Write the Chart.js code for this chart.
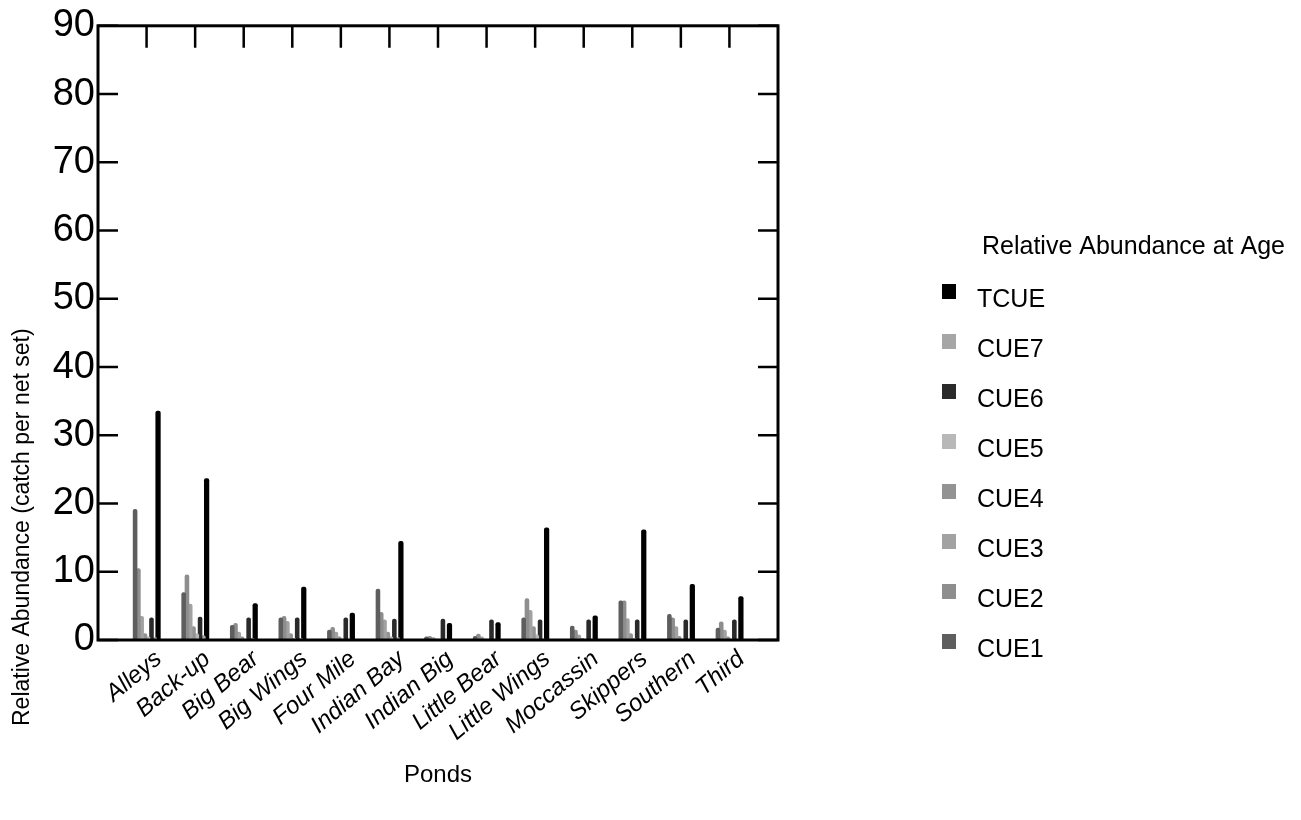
<!DOCTYPE html>
<html lang="en">
<head>
    <meta charset="UTF-8">
    <title>Relative Abundance at Age by Pond</title>
    <script src="https://cdn.jsdelivr.net/npm/chart.js"></script>
    <style>
        html, body { margin: 0; padding: 0; background: #fff; }
        #wrap { width: 1301px; height: 820px; }
    </style>
</head>
<body>
<div id="wrap"><canvas id="abundanceChart" width="1301" height="820"></canvas></div>
<script>
    // Ponds along the x axis
    const ponds = ['Alleys', 'Back-up', 'Big Bear', 'Big Wings', 'Four Mile', 'Indian Bay', 'Indian Big',
        'Little Bear', 'Little Wings', 'Moccassin', 'Skippers', 'Southern', 'Third'];
    const yTicks = [0, 10, 20, 30, 40, 50, 60, 70, 80, 90];

    // Catch per net set, by age class
    const cue1 = [19.2, 7.0, 2.2, 3.3, 1.5, 7.5, 0.5, 0.6, 3.3, 2.1, 5.8, 3.8, 1.8];
    const cue2 = [10.5, 9.6, 2.5, 3.5, 1.9, 4.1, 0.6, 0.9, 6.1, 1.5, 5.8, 3.3, 2.7];
    const cue3 = [3.5, 5.3, 1.2, 2.8, 1.2, 3.0, 0.4, 0.5, 4.4, 0.8, 3.2, 2.0, 1.5];
    const cue4 = [1.0, 2.0, 0.5, 1.0, 0.5, 1.2, 0.2, 0.2, 2.0, 0.3, 1.0, 0.6, 0.5];
    const cue5 = [0.5, 1.0, 0.2, 0.3, 0.2, 0.5, 0.1, 0.1, 0.8, 0.1, 0.3, 0.2, 0.2];
    const cue6 = [3.3, 3.4, 3.3, 3.3, 3.3, 3.1, 3.1, 3.0, 3.0, 3.0, 3.0, 3.0, 3.0];
    const cue7 = [0.4, 0.7, 0.3, 0.3, 0.2, 0.4, 0.1, 0.2, 0.2, 0.2, 0.2, 0.2, 0.2];
    const tcue = [33.6, 23.7, 5.4, 7.8, 4.0, 14.5, 2.5, 2.6, 16.5, 3.6, 16.2, 8.2, 6.4];

    const seriesNames = ['CUE1', 'CUE2', 'CUE3', 'CUE4', 'CUE5', 'CUE6', 'CUE7', 'TCUE'];
    const seriesValues = [cue1, cue2, cue3, cue4, cue5, cue6, cue7, tcue];
    const seriesColors = ['#5e5e5e', '#8e8e8e', '#a2a2a2', '#939393', '#b8b8b8', '#2a2a2a', '#a6a6a6', '#000000'];

    const FONT = '"Liberation Sans", Arial, Helvetica, sans-serif';
    Chart.defaults.font.family = FONT;
    Chart.defaults.color = '#000';

    const datasets = seriesNames.map((name, k) => ({
        label: name,
        data: seriesValues[k].map((v, i) => ({ x: i, y: v })),
        backgroundColor: seriesColors[k],
        borderWidth: 0,
        borderRadius: 2,
        barPercentage: name === 'TCUE' ? 1.6 : 1.4,
        categoryPercentage: 0.54
    }));

    // Box frame with inward tick marks
    const framePlugin = {
        id: 'frame',
        afterDatasetsDraw(chart) {
            const { ctx, chartArea: a, scales: { x, y } } = chart;
            ctx.save();
            ctx.strokeStyle = '#000';
            ctx.lineWidth = 3;
            ctx.strokeRect(a.left, a.top, a.right - a.left, a.bottom - a.top);
            ctx.lineWidth = 2.5;
            ctx.beginPath();
            yTicks.forEach(v => {
                const py = y.getPixelForValue(v);
                ctx.moveTo(a.left, py); ctx.lineTo(a.left + 20, py);
                ctx.moveTo(a.right, py); ctx.lineTo(a.right - 20, py);
            });
            ponds.forEach((p, i) => {
                const px = x.getPixelForValue(i);
                ctx.moveTo(px, a.top); ctx.lineTo(px, a.top + 22);
            });
            ctx.stroke();
            ctx.restore();
        }
    };

    // Y title and the legend column on the right
    const sideTextPlugin = {
        id: 'sideText',
        afterDraw(chart) {
            const ctx = chart.ctx;
            ctx.save();
            ctx.fillStyle = '#000';
            ctx.textBaseline = 'middle';

            ctx.save();
            ctx.translate(23, 726);
            ctx.rotate(-Math.PI / 2);
            ctx.font = '23px ' + FONT;
            ctx.textAlign = 'left';
            ctx.fillText('Relative Abundance (catch per net set)', 0, 0);
            ctx.restore();

            ctx.font = '25px ' + FONT;
            ctx.textAlign = 'left';
            ctx.fillText('Relative Abundance at Age', 982, 247);

            chart.data.datasets.slice().reverse().forEach((ds, i) => {
                const cy = 300 + i * 50;
                ctx.fillStyle = ds.backgroundColor;
                ctx.fillRect(942, cy - 16, 14, 15);
                ctx.fillStyle = '#000';
                ctx.fillText(ds.label, 977, cy);
            });
            ctx.restore();
        }
    };

    new Chart(document.getElementById('abundanceChart'), {
        type: 'bar',
        data: { datasets },
        options: {
            responsive: false,
            animation: false,
            layout: { padding: { left: 0, top: 22, right: 523, bottom: 0 } },
            plugins: {
                legend: { display: false },
                tooltip: { enabled: false }
            },
            scales: {
                x: {
                    type: 'linear',
                    min: -1,
                    max: 13,
                    offset: false,
                    grid: { display: false, drawTicks: false },
                    border: { display: false },
                    ticks: {
                        stepSize: 1,
                        autoSkip: false,
                        minRotation: 40,
                        maxRotation: 40,
                        padding: 5,
                        labelOffset: 12,
                        font: { size: 24, style: 'italic' },
                        callback: v => ponds[v] ?? ''
                    },
                    title: {
                        display: true,
                        text: 'Ponds',
                        font: { size: 24 },
                        padding: { top: 0, bottom: 30 }
                    },
                    afterFit(scale) { scale.height = 180; }
                },
                y: {
                    min: 0,
                    max: 90,
                    grid: { display: false, drawTicks: false },
                    border: { display: false },
                    ticks: { stepSize: 10, padding: 3, font: { size: 38 } },
                    afterFit(scale) { scale.width = 98; }
                }
            }
        },
        plugins: [framePlugin, sideTextPlugin]
    });
</script>
</body>
</html>
